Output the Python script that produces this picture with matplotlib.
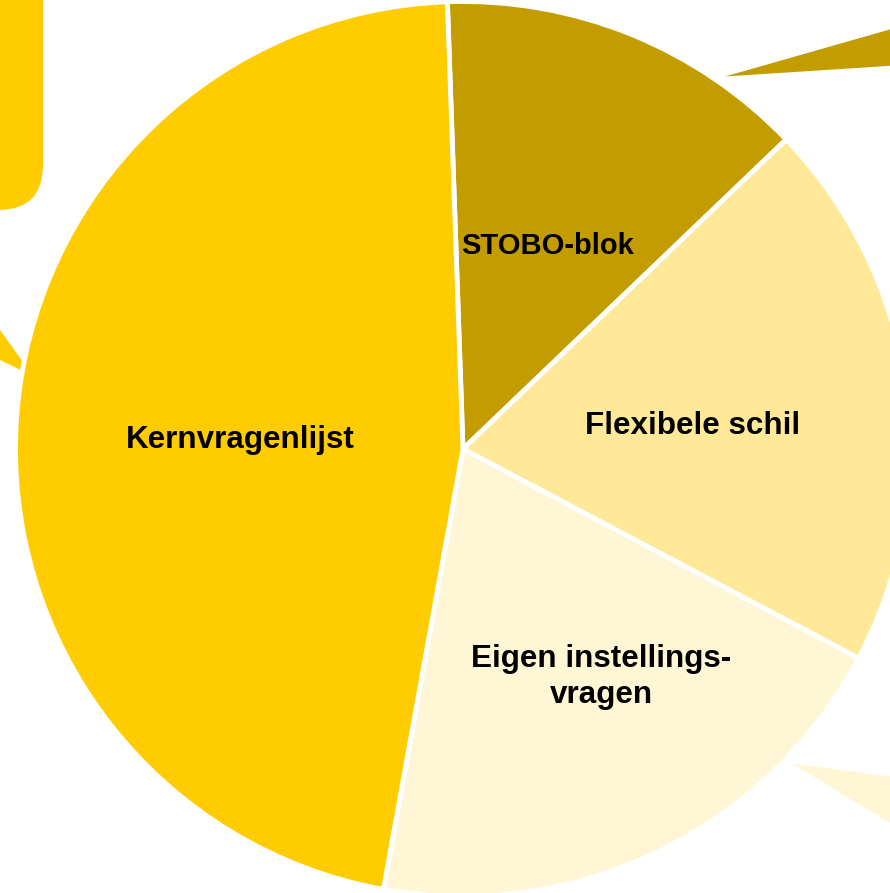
import matplotlib
matplotlib.use("Agg")
import matplotlib.pyplot as plt
from matplotlib.patches import Polygon, FancyBboxPatch

# Data
categories = ["STOBO-blok", "Flexibele schil", "Eigen instellings-\nvragen", "Kernvragenlijst"]
values = [13.4, 19.9, 20.1, 46.6]
colors = ["#C39D00", "#FFE999", "#FFF6D6", "#FFCC00"]

W, H = 890, 893
fig = plt.figure(figsize=(W / 100, H / 100), dpi=100)
ax = fig.add_axes([0, 0, 1, 1])

def Y(y):
    return H - y

# Decorative callout pieces (cropped from slide)
ax.add_patch(FancyBboxPatch((-200, Y(210)), 243, 400,
                            boxstyle="round,pad=0,rounding_size=45",
                            fc="#FFCC00", ec="none", zorder=1))
ax.add_patch(Polygon([(0, Y(330)), (33, Y(376)), (0, Y(360))], closed=True,
                     fc="#FFCC00", ec="none", zorder=1))
ax.add_patch(Polygon([(725, Y(76.5)), (895, Y(28)), (895, Y(65.5))], closed=True,
                     fc="#C39D00", ec="none", zorder=1))
ax.add_patch(Polygon([(792, Y(763.5)), (895, Y(777)), (895, Y(826))], closed=True,
                     fc="#FFF6D6", ec="none", zorder=1))

wedges, _ = ax.pie(values, colors=colors, startangle=92, counterclock=False,
                   center=(463, Y(449)), radius=447.5, frame=False,
                   wedgeprops=dict(edgecolor="white", linewidth=3.5))
for w in wedges:
    w.set_zorder(2)

ax.set_xlim(0, W)
ax.set_ylim(0, H)
ax.set_aspect("equal")
ax.axis("off")

font = dict(family=["Liberation Sans", "DejaVu Sans"], fontweight="bold", color="black", zorder=3)
ax.text(548, Y(254), categories[0], ha="center", va="baseline", fontsize=21, **font)
ax.text(692.5, Y(434), categories[1], ha="center", va="baseline", fontsize=22.6, **font)
l1, l2 = categories[2].split("\n")
ax.text(601.5, Y(667), l1, ha="center", va="baseline", fontsize=22.6, **font)
ax.text(601.5, Y(703), l2, ha="center", va="baseline", fontsize=22.6, **font)
ax.text(240, Y(448), categories[3], ha="center", va="baseline", fontsize=22.6, **font)

fig.savefig("out.png", dpi=100)
